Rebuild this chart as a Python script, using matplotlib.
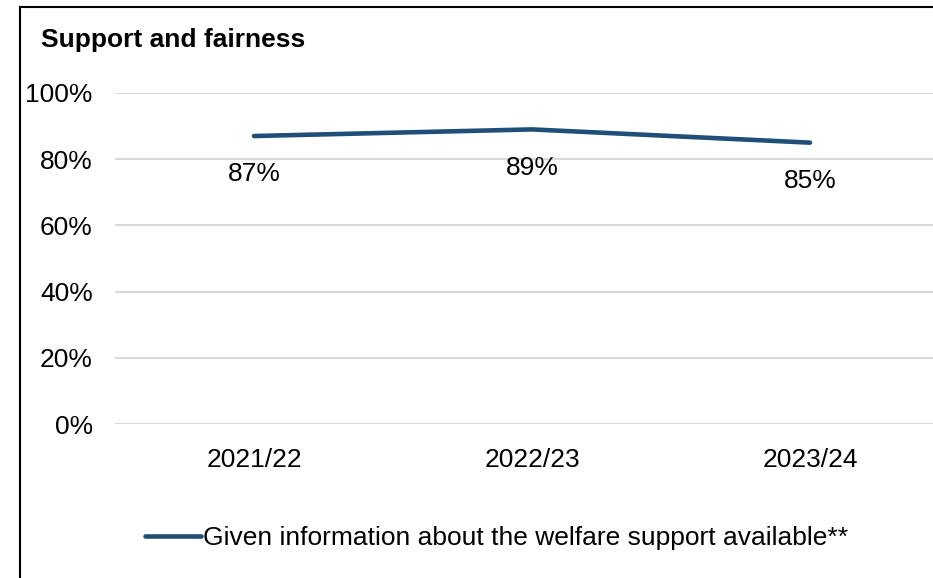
import matplotlib
matplotlib.use("Agg")
import matplotlib.pyplot as plt
from matplotlib.lines import Line2D

categories = ["2021/22", "2022/23", "2023/24"]
values = [87, 89, 85]
series_name = "Given information about the welfare support available**"
title = "Support and fairness"
yticks = [0, 20, 40, 60, 80, 100]

W, H = 933, 578
FS = 19
plt.rcParams['font.family'] = ['Liberation Sans', 'DejaVu Sans']
fig = plt.figure(figsize=(W / 100, H / 100), dpi=100)

ax = fig.add_axes([115 / W, (H - 424) / H, 834 / W, (424 - 93) / H])
ax.set_xlim(0, 3)
ax.set_ylim(0, 100)
x = [i + 0.5 for i in range(len(categories))]
color = "#1F4E79"
ax.plot(x, values, color=color, linewidth=3.3, solid_capstyle="round", zorder=3)
for xi, v in zip(x, values):
    ax.annotate(f"{v}%", (xi, v), xytext=(0, -27.5), textcoords="offset points",
                ha="center", va="center", fontsize=FS, color="black")

ax.set_yticks(yticks)
ax.set_yticklabels([f"{t}%" for t in yticks], fontsize=FS)
ax.set_xticks(x)
ax.set_xticklabels(categories, fontsize=FS)
ax.tick_params(axis="both", length=0)
ax.tick_params(axis="y", pad=16)
ax.tick_params(axis="x", pad=17)
ax.grid(axis="y", color="#D9D9D9", linewidth=1.5)
ax.set_axisbelow(True)
for s in ax.spines.values():
    s.set_visible(False)

fig.text(41 / W, 1 - 40 / H, title, fontsize=FS, fontweight="bold", ha="left", va="center")

handle = Line2D([0], [0], color=color, linewidth=3.3, solid_capstyle="round")
fig.legend([handle], [series_name], loc="center", bbox_to_anchor=(497 / W, 1 - 538 / H),
           frameon=False, fontsize=FS, handlelength=2.1, handletextpad=0.1)

# outer frame (top and left visible)
fig.add_artist(Line2D([20 / W, 20 / W], [0, 1 - 7 / H], transform=fig.transFigure, color="black", linewidth=1.5))
fig.add_artist(Line2D([20 / W, 1], [1 - 7 / H, 1 - 7 / H], transform=fig.transFigure, color="black", linewidth=1.5))

fig.savefig("out.png", dpi=100)
